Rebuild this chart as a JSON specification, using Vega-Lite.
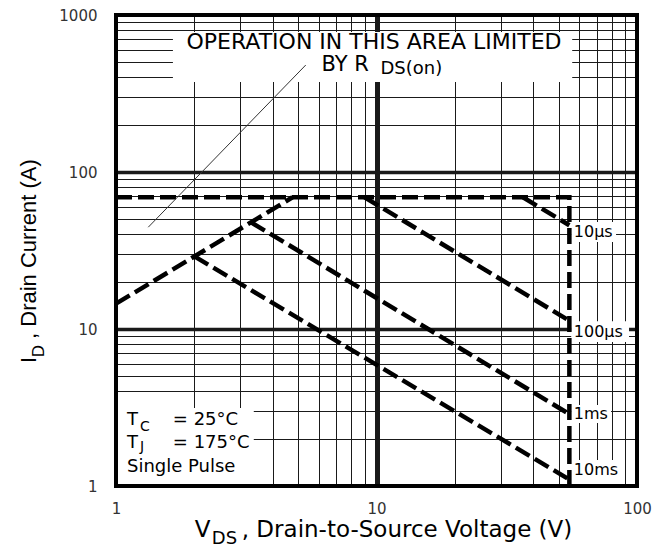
{
  "$schema": "https://vega.github.io/schema/vega-lite/v6.json",
  "width": 521,
  "height": 471,
  "autosize": {"type": "none"},
  "padding": {"left": 116, "top": 15, "right": 33, "bottom": 68},
  "background": "white",
  "config": {"view": {"stroke": null}, "font": "DejaVu Sans"},
  "datasets": {
    "boxes": [
      {"name": "area", "x": 1.654, "x2": 56.4, "y": 374, "y2": 780},
      {"name": "10us", "x": 55.9, "x2": 83.1, "y": 35.8, "y2": 48.0},
      {"name": "100us", "x": 55.9, "x2": 93.2, "y": 8.27, "y2": 11.2},
      {"name": "1ms", "x": 55.9, "x2": 79.5, "y": 2.52, "y2": 3.28},
      {"name": "10ms", "x": 55.9, "x2": 85.3, "y": 1, "y2": 1.464},
      {"name": "cond", "x": 1, "x2": 3.38, "y": 1, "y2": 3.14}
    ],
    "curves": [
      {"series": "limit", "i": 1, "x": 1, "y": 69},
      {"series": "limit", "i": 2, "x": 55, "y": 69},
      {"series": "limit", "i": 3, "x": 55, "y": 1},
      {"series": "rds", "i": 1, "x": 1, "y": 14.5},
      {"series": "rds", "i": 2, "x": 4.76, "y": 69},
      {"series": "10us", "i": 1, "x": 36.5, "y": 69},
      {"series": "10us", "i": 2, "x": 55, "y": 45.8},
      {"series": "100us", "i": 1, "x": 9, "y": 69},
      {"series": "100us", "i": 2, "x": 55, "y": 11.3},
      {"series": "1ms", "i": 1, "x": 3.3, "y": 47.8},
      {"series": "1ms", "i": 2, "x": 55, "y": 2.87},
      {"series": "10ms", "i": 1, "x": 2, "y": 29},
      {"series": "10ms", "i": 2, "x": 55, "y": 1.1}
    ],
    "pointer": [
      {"i": 1, "x": 1.33, "y": 44.5},
      {"i": 2, "x": 5.35, "y": 480}
    ],
    "frame": [
      {"x": 1, "x2": 100, "y": 1, "y2": 1000}
    ],
    "labels": [
      {"role": "noteC", "label": "OPERATION IN THIS AREA LIMITED", "x": 9.78, "y": 605},
      {"role": "noteL", "label": "BY R", "x": 6.15, "y": 440},
      {"role": "noteSub", "label": "DS(on)", "x": 10.36, "y": 420},
      {"role": "pulse", "label": "10μs", "x": 57.2, "y": 41.5},
      {"role": "pulse", "label": "100μs", "x": 57.2, "y": 9.57},
      {"role": "pulse", "label": "1ms", "x": 57.2, "y": 2.874},
      {"role": "pulse", "label": "10ms", "x": 57.2, "y": 1.264},
      {"role": "cond", "label": "T", "x": 1.102, "y": 2.446},
      {"role": "cond", "label": "= 25°C", "x": 1.653, "y": 2.446},
      {"role": "cond", "label": "T", "x": 1.102, "y": 1.746},
      {"role": "cond", "label": "= 175°C", "x": 1.653, "y": 1.746},
      {"role": "cond", "label": "Single Pulse", "x": 1.102, "y": 1.228},
      {"role": "condSub", "label": "C", "x": 1.236, "y": 2.25},
      {"role": "condSub", "label": "J", "x": 1.236, "y": 1.67},
      {"role": "xtitle", "label": "V", "x": 2.007, "y": 0.47},
      {"role": "xtitle", "label": ", Drain-to-Source Voltage (V)", "x": 3.039, "y": 0.47},
      {"role": "xtitleSub", "label": "DS", "x": 2.333, "y": 0.425},
      {"role": "ytitle", "label": "I", "x": 0.4937, "y": 6.07},
      {"role": "ytitle", "label": ", Drain Current (A)", "x": 0.4937, "y": 8.64},
      {"role": "ytitleSub", "label": "D", "x": 0.53, "y": 6.6}
    ]
  },
  "encoding": {
    "x": {
      "field": "x",
      "type": "quantitative",
      "scale": {"type": "log", "domain": [1, 100], "nice": false},
      "axis": {
        "values": [1, 2, 3, 4, 5, 6, 7, 8, 9, 10, 20, 30, 40, 50, 60, 70, 80, 90, 100],
        "labelExpr": "(datum.value == 1 || datum.value == 10 || datum.value == 100) ? '' + datum.value : ''",
        "grid": true,
        "gridColor": "#1a1a1a",
        "gridOpacity": 1,
        "gridWidth": {"condition": {"test": "datum.value == 10", "value": 5}, "value": 1},
        "ticks": false,
        "tickSize": 0,
        "domain": false,
        "labelFont": "DejaVu Sans",
        "labelFontSize": 15,
        "labelColor": "#333333",
        "labelPadding": 15,
        "labelFlush": false,
        "labelOverlap": false,
        "labelBound": false,
        "title": null
      }
    },
    "y": {
      "field": "y",
      "type": "quantitative",
      "scale": {"type": "log", "domain": [1, 1000], "nice": false},
      "axis": {
        "values": [1, 2, 3, 4, 5, 6, 7, 8, 9, 10, 20, 30, 40, 50, 60, 70, 80, 90, 100, 200, 300, 400, 500, 600, 700, 800, 900, 1000],
        "labelExpr": "(datum.value == 1 || datum.value == 10 || datum.value == 100 || datum.value == 1000) ? '' + datum.value : ''",
        "grid": true,
        "gridColor": "#1a1a1a",
        "gridOpacity": 1,
        "gridWidth": {"condition": {"test": "datum.value == 10 || datum.value == 100", "value": 3.5}, "value": 1},
        "ticks": false,
        "tickSize": 0,
        "domain": false,
        "labelFont": "DejaVu Sans",
        "labelFontSize": 15,
        "labelColor": "#333333",
        "labelPadding": 19,
        "labelFlush": false,
        "labelOverlap": false,
        "labelBound": false,
        "title": null
      }
    }
  },
  "layer": [
    {
      "data": {"name": "boxes"},
      "mark": {"type": "rect", "fill": "white", "stroke": null},
      "encoding": {"x2": {"field": "x2"}, "y2": {"field": "y2"}}
    },
    {
      "data": {"name": "curves"},
      "mark": {"type": "line", "color": "black", "strokeWidth": 4.5, "strokeDash": [16, 6], "strokeCap": "butt"},
      "encoding": {"detail": {"field": "series"}, "order": {"field": "i"}}
    },
    {
      "data": {"name": "pointer"},
      "mark": {"type": "line", "color": "#333333", "strokeWidth": 1},
      "encoding": {"order": {"field": "i"}}
    },
    {
      "data": {"name": "frame"},
      "mark": {"type": "rect", "filled": false, "color": "black", "strokeWidth": 4},
      "encoding": {"x2": {"field": "x2"}, "y2": {"field": "y2"}}
    },
    {
      "data": {"name": "labels"},
      "transform": [{"filter": "datum.role == 'noteC'"}],
      "mark": {"type": "text", "align": "center", "baseline": "alphabetic", "fontSize": 22, "font": "DejaVu Sans", "color": "black"},
      "encoding": {"text": {"field": "label"}}
    },
    {
      "data": {"name": "labels"},
      "transform": [{"filter": "datum.role == 'noteL'"}],
      "mark": {"type": "text", "align": "left", "baseline": "alphabetic", "fontSize": 21, "font": "DejaVu Sans", "color": "black"},
      "encoding": {"text": {"field": "label"}}
    },
    {
      "data": {"name": "labels"},
      "transform": [{"filter": "datum.role == 'noteSub'"}],
      "mark": {"type": "text", "align": "left", "baseline": "alphabetic", "fontSize": 18, "font": "DejaVu Sans", "color": "black"},
      "encoding": {"text": {"field": "label"}}
    },
    {
      "data": {"name": "labels"},
      "transform": [{"filter": "datum.role == 'pulse'"}],
      "mark": {"type": "text", "align": "left", "baseline": "middle", "fontSize": 16, "font": "DejaVu Sans", "color": "black"},
      "encoding": {"text": {"field": "label"}}
    },
    {
      "data": {"name": "labels"},
      "transform": [{"filter": "datum.role == 'cond'"}],
      "mark": {"type": "text", "align": "left", "baseline": "alphabetic", "fontSize": 18, "font": "DejaVu Sans", "color": "black"},
      "encoding": {"text": {"field": "label"}}
    },
    {
      "data": {"name": "labels"},
      "transform": [{"filter": "datum.role == 'condSub'"}],
      "mark": {"type": "text", "align": "left", "baseline": "alphabetic", "fontSize": 14, "font": "DejaVu Sans", "color": "black"},
      "encoding": {"text": {"field": "label"}}
    },
    {
      "data": {"name": "labels"},
      "transform": [{"filter": "datum.role == 'xtitle'"}],
      "mark": {"type": "text", "align": "left", "baseline": "alphabetic", "fontSize": 23, "font": "DejaVu Sans", "color": "black"},
      "encoding": {"text": {"field": "label"}}
    },
    {
      "data": {"name": "labels"},
      "transform": [{"filter": "datum.role == 'xtitleSub'"}],
      "mark": {"type": "text", "align": "left", "baseline": "alphabetic", "fontSize": 18, "font": "DejaVu Sans", "color": "black"},
      "encoding": {"text": {"field": "label"}}
    },
    {
      "data": {"name": "labels"},
      "transform": [{"filter": "datum.role == 'ytitle'"}],
      "mark": {"type": "text", "align": "left", "baseline": "alphabetic", "angle": 270, "fontSize": 22, "font": "Liberation Sans", "color": "black"},
      "encoding": {"text": {"field": "label"}}
    },
    {
      "data": {"name": "labels"},
      "transform": [{"filter": "datum.role == 'ytitleSub'"}],
      "mark": {"type": "text", "align": "left", "baseline": "alphabetic", "angle": 270, "fontSize": 17, "font": "Liberation Sans", "color": "black"},
      "encoding": {"text": {"field": "label"}}
    }
  ]
}
